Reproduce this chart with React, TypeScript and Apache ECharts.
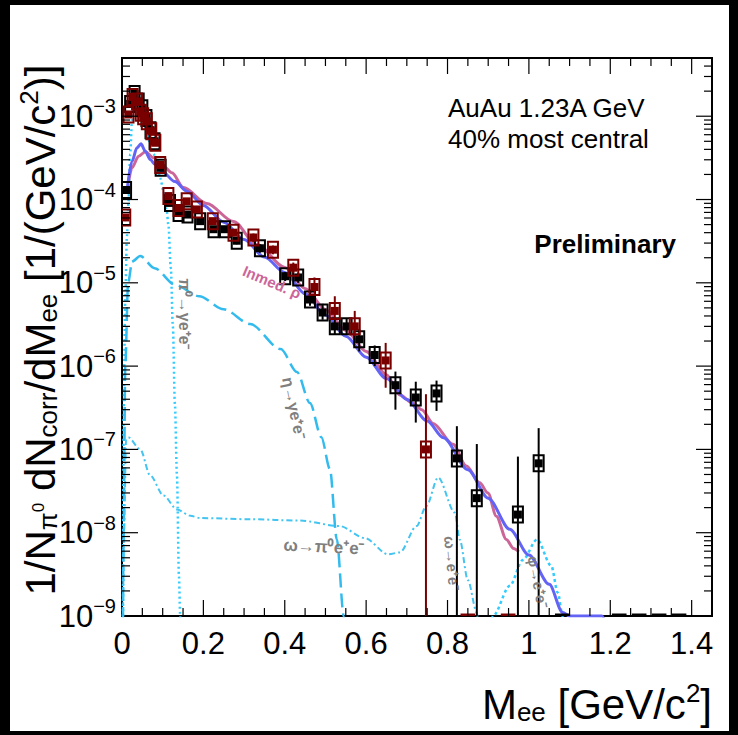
import React, { useEffect, useRef } from 'react';
import * as echarts from 'echarts';

const FONT = '"Liberation Sans", Arial, Helvetica, sans-serif';
const X_MIN = 0;
const X_MAX = 1.45;
const Y_MIN = 1e-9;
const Y_MAX = 5e-3;

// ---- data points (black and dark red samples) ----
const blackX = [0.010, 0.020, 0.031, 0.041, 0.050, 0.060, 0.070, 0.080, 0.095, 0.118, 0.139, 0.161, 0.192, 0.225, 0.253, 0.282, 0.339, 0.401, 0.433, 0.462, 0.493, 0.523, 0.552, 0.583, 0.621, 0.672, 0.722, 0.773, 0.823, 0.872, 0.973, 1.024];
const blackY = [1.3e-4, 1.4e-3, 1.85e-3, 1.5e-3, 1.25e-3, 9.5e-4, 6.8e-4, 5.0e-4, 2.4e-4, 9.1e-5, 6.9e-5, 6.6e-5, 5.5e-5, 4.4e-5, 4.4e-5, 3.2e-5, 2.6e-5, 1.2e-5, 1.16e-5, 6.3e-6, 4.4e-6, 3.0e-6, 3.0e-6, 2.1e-6, 1.36e-6, 5.9e-7, 4.2e-7, 4.7e-7, 7.8e-8, 2.6e-8, 1.65e-8, 6.8e-8];
const blackLo = [1.2e-4, 1.3e-3, 1.75e-3, 1.4e-3, 1.17e-3, 8.9e-4, 6.3e-4, 4.6e-4, 2.2e-4, 8.4e-5, 6.3e-5, 6.0e-5, 5.0e-5, 4.0e-5, 4.0e-5, 2.9e-5, 2.3e-5, 1.05e-5, 1.0e-5, 5.3e-6, 3.6e-6, 2.4e-6, 2.4e-6, 1.5e-6, 1.0e-6, 3.0e-7, 2.1e-7, 2.9e-7, 0, 0, 0, 0];
const blackHi = [1.4e-4, 1.5e-3, 1.95e-3, 1.6e-3, 1.33e-3, 1.01e-3, 7.3e-4, 5.4e-4, 2.6e-4, 9.8e-5, 7.5e-5, 7.2e-5, 6.0e-5, 4.8e-5, 4.8e-5, 3.5e-5, 2.9e-5, 1.35e-5, 1.32e-5, 8.3e-6, 5.6e-6, 3.7e-6, 3.7e-6, 2.8e-6, 1.77e-6, 8.6e-7, 6.5e-7, 6.7e-7, 1.9e-7, 1.16e-7, 8.2e-8, 1.8e-7];
const blackZeroX = [1.082, 1.222, 1.271, 1.32, 1.369];

const redX = [0.008, 0.016, 0.026, 0.037, 0.046, 0.052, 0.061, 0.072, 0.082, 0.094, 0.114, 0.139, 0.159, 0.184, 0.223, 0.274, 0.323, 0.371, 0.421, 0.473, 0.523, 0.572, 0.648, 0.747];
const redY = [6.1e-5, 1.05e-3, 1.7e-3, 1.5e-3, 1.1e-3, 1.0e-3, 8.7e-4, 6.6e-4, 4.8e-4, 2.6e-4, 1.1e-4, 7.9e-5, 9.5e-5, 7.6e-5, 5.5e-5, 4.0e-5, 3.5e-5, 2.5e-5, 1.52e-5, 8.9e-6, 4.6e-6, 3.0e-6, 1.17e-6, 1.0e-7];
const redLo = [5.5e-5, 9.7e-4, 1.6e-3, 1.4e-3, 1.02e-3, 9.3e-4, 8.1e-4, 6.1e-4, 4.4e-4, 2.4e-4, 1.0e-4, 7.2e-5, 8.7e-5, 6.9e-5, 5.0e-5, 3.6e-5, 3.1e-5, 2.2e-5, 1.3e-5, 7.0e-6, 3.6e-6, 2.3e-6, 5.5e-7, 0];
const redHi = [6.7e-5, 1.13e-3, 1.8e-3, 1.6e-3, 1.18e-3, 1.07e-3, 9.3e-4, 7.1e-4, 5.2e-4, 2.8e-4, 1.2e-4, 8.6e-5, 1.03e-4, 8.3e-5, 6.0e-5, 4.4e-5, 3.9e-5, 2.8e-5, 1.75e-5, 1.16e-5, 6.9e-6, 4.6e-6, 1.9e-6, 4.6e-7];
const redZeroX = [0.85, 0.949];

// ---- model curves ----
const sumBlue: [number, number][] = [
  [0.0123, 1.26e-4], [0.0245, 2.88e-4], [0.0368, 4.18e-4], [0.0466, 4.67e-4], [0.0572, 3.8e-4], [0.0694, 3.02e-4],
  [0.0817, 2.63e-4], [0.0981, 2.19e-4], [0.13, 1.64e-4], [0.16, 1.25e-4], [0.2, 8.5e-5], [0.25, 5.35e-5],
  [0.3, 3.3e-5], [0.35, 2.04e-5], [0.4, 1.33e-5], [0.45, 7.4e-6], [0.5, 4.1e-6], [0.55, 2.29e-6],
  [0.6, 1.28e-6], [0.65, 7.1e-7], [0.7, 3.97e-7], [0.75, 2.2e-7], [0.79, 1.38e-7], [0.85, 5.7e-8],
  [0.9, 2.6e-8], [0.953, 1.1e-8], [1.0, 5.4e-9], [1.05, 2.4e-9], [1.083, 1.1e-9], [1.1, 1e-9], [1.18, 1e-9], [1.2, 5e-10],
];
const inmedRho: [number, number][] = [
  [0.0163, 1.66e-4], [0.0245, 2.4e-4], [0.0407, 3.31e-4], [0.0572, 3.74e-4], [0.0775, 3.17e-4], [0.102, 2.51e-4],
  [0.1227, 2.09e-4], [0.151, 1.39e-4], [0.2085, 8.95e-5], [0.2738, 5.44e-5], [0.3312, 2.88e-5], [0.4006, 1.53e-5],
  [0.4497, 8.55e-6], [0.5, 4.79e-6], [0.55, 2.68e-6], [0.6, 1.5e-6], [0.65, 7.9e-7], [0.683, 4.5e-7],
  [0.7147, 3.6e-7], [0.7368, 3.0e-7], [0.7645, 2.05e-7], [0.8135, 1.15e-7], [0.8464, 6.3e-8], [0.879, 3.97e-8],
  [0.8994, 3.0e-8], [0.92, 1.58e-8], [0.9446, 8.3e-9], [0.9625, 6.45e-9], [0.975, 5.9e-9],
];
const pi0Dalitz: [number, number][] = [
  [0.0025, 1e-9], [0.004, 2.6e-7], [0.008, 6e-6], [0.012, 3.6e-5], [0.016, 9.5e-5], [0.02, 3.5e-4],
  [0.025, 9.6e-4], [0.028, 1.66e-3], [0.037, 1.8e-3], [0.045, 1.45e-3], [0.053, 9.6e-4], [0.061, 6.6e-4],
  [0.069, 4.6e-4], [0.078, 3.5e-4], [0.086, 2.6e-4], [0.094, 1.8e-4], [0.102, 1.26e-4], [0.11, 7.2e-5],
  [0.114, 5.0e-5], [0.12, 1.5e-5], [0.125, 3e-6], [0.13, 3.5e-7], [0.135, 5e-8], [0.14, 3e-9], [0.143, 1e-9], [0.145, 1e-10],
];
const etaDalitz: [number, number][] = [
  [0.002, 5e-10], [0.004, 1e-8], [0.008, 1e-6], [0.015, 1e-5], [0.025, 1.8e-5], [0.045, 2.1e-5],
  [0.08, 1.5e-5], [0.13, 9.5e-6], [0.19, 6.9e-6], [0.25, 4.8e-6], [0.315, 3.2e-6], [0.39, 1.6e-6],
  [0.43, 8.5e-7], [0.462, 3.6e-7], [0.49, 1.4e-7], [0.511, 5.8e-8], [0.528, 8.3e-9], [0.545, 1e-9], [0.55, 3e-10],
];
const omega: [number, number][] = [
  [0.002, 5e-10], [0.005, 1e-8], [0.01, 1.3e-7], [0.015, 1.4e-7], [0.045, 1.0e-7], [0.069, 4.9e-8],
  [0.102, 2.8e-8], [0.135, 1.9e-8], [0.168, 1.6e-8], [0.192, 1.5e-8], [0.315, 1.45e-8], [0.437, 1.4e-8],
  [0.535, 1.2e-8], [0.597, 8.6e-9], [0.654, 5.5e-9], [0.683, 5.8e-9], [0.724, 1.2e-8], [0.748, 2.1e-8],
  [0.777, 4.6e-8], [0.818, 1.74e-8], [0.83, 8.3e-9], [0.85, 2.7e-9], [0.872, 1.1e-9], [0.88, 3e-10],
];
const phi: [number, number][] = [
  [0.9, 4e-10], [0.912, 1e-9], [0.953, 2.3e-9], [0.985, 4.7e-9], [1.02, 8.3e-9], [1.055, 4e-9],
  [1.071, 1.9e-9], [1.083, 1e-9], [1.095, 3e-10],
];

// tick values for the frame (drawn on all four sides)
const xTickVals: number[] = [];
for (let k = 1; k <= 28; k++) xTickVals.push(+(k * 0.05).toFixed(2));
const yTickVals: number[] = [];
for (let e = -9; e <= -3; e++) for (let m = 1; m <= 9; m++) {
  const v = m * Math.pow(10, e);
  if (v > Y_MIN * 1.0001 && v < Y_MAX * 0.9999) yTickVals.push(v);
}

function makeOption() {
  const pointSeries = (name: string, color: string, xs: number[], ys: number[], lo: number[], hi: number[]) => ({
    type: 'custom',
    name,
    z: 5,
    clip: true,
    data: xs.map((x, i) => [x, ys[i], lo[i], hi[i]]),
    renderItem: (params: any, api: any) => {
      const x = api.value(0), y = api.value(1), l = api.value(2), h = api.value(3);
      const c = api.coord([x, y]);
      const top = api.coord([x, h]);
      const bot = api.coord([x, l > Y_MIN ? l : Y_MIN]);
      return {
        type: 'group',
        children: [
          { type: 'line', shape: { x1: c[0], y1: top[1], x2: c[0], y2: bot[1] }, style: { stroke: color, lineWidth: 2 } },
          { type: 'rect', shape: { x: c[0] - 5, y: c[1] - 8, width: 10, height: 16 }, style: { fill: 'none', stroke: color, lineWidth: 2 } },
          { type: 'rect', shape: { x: c[0] - 4, y: c[1] - 4, width: 8, height: 8 }, style: { fill: color } },
        ],
      };
    },
  });
  const zeroSeries = (name: string, color: string, xs: number[]) => ({
    type: 'custom',
    name,
    z: 5,
    clip: true,
    data: xs.map((x) => [x, Y_MIN]),
    renderItem: (params: any, api: any) => {
      const x = api.value(0);
      const a = api.coord([x - 0.018, Y_MIN]);
      const b = api.coord([x + 0.018, Y_MIN]);
      return { type: 'line', shape: { x1: a[0], y1: a[1] - 1, x2: b[0], y2: b[1] - 1 }, style: { stroke: color, lineWidth: 3 } };
    },
  });
  const curve = (name: string, data: [number, number][], color: string, width: number, type: any, smooth = 0.3) => ({
    type: 'line',
    name,
    data,
    showSymbol: false,
    symbol: 'none',
    smooth,
    smoothMonotone: 'x',
    clip: true,
    z: 3,
    lineStyle: { color, width, type },
  });

  const supStyle = {
    b: { fontSize: 31, fontFamily: FONT, color: '#000' },
    s: { fontSize: 20, fontFamily: FONT, color: '#000', padding: [0, 0, 20, 0] },
  };

  const lbl = (text: string, x: number, y: number, rotation: number, size: number, fill = '#7f7f7f') => ({
    type: 'text', x, y, rotation, z: 20,
    style: { text, font: `bold ${size}px ${FONT}`, fill, align: 'center', verticalAlign: 'middle' },
  });

  return {
    animation: false,
    grid: { left: 122, top: 58, width: 590, height: 558, show: true, borderColor: '#000', borderWidth: 2, backgroundColor: 'transparent' },
    xAxis: {
      type: 'value', min: X_MIN, max: X_MAX, interval: 0.2,
      axisLine: { show: false }, axisTick: { show: false }, splitLine: { show: false },
      axisLabel: { fontSize: 31, fontFamily: FONT, color: '#000', margin: 12, showMaxLabel: false,
        formatter: (v: number) => (Math.abs(v / 0.2 - Math.round(v / 0.2)) < 1e-6 ? String(+v.toFixed(1)) : '') },
    },
    yAxis: {
      type: 'log', min: Y_MIN, max: Y_MAX, logBase: 10,
      axisLine: { show: false }, axisTick: { show: false }, splitLine: { show: false },
      axisLabel: {
        margin: 6, showMaxLabel: false, rich: supStyle,
        formatter: (v: number) => {
          const l = Math.log10(v);
          const e = Math.round(l);
          if (Math.abs(l - e) > 0.01) return '';
          return `{b|10}{s|\u2212${-e}}`;
        },
      },
    },
    series: [
      curve('pi0', pi0Dalitz, '#33ccff', 2.5, [2, 3]),
      curve('eta', etaDalitz, '#33bbee', 2.5, [14, 6]),
      curve('omega', omega, '#44c4f0', 2, [6, 3, 2, 3]),
      curve('phi', phi, '#33ccff', 2.5, [3, 3]),
      curve('inmed', inmedRho, '#cc6699', 3, 'solid'),
      curve('sum', sumBlue, '#6363f5', 3, 'solid'),
      pointSeries('black', '#000000', blackX, blackY, blackLo, blackHi),
      pointSeries('red', '#7a0000', redX, redY, redLo, redHi),
      zeroSeries('blackZero', '#000000', blackZeroX),
      zeroSeries('redZero', '#7a0000', redZeroX),
      {
        type: 'custom', name: 'frameTicks', z: 6,
        data: [[0.7, 1e-6]],
        renderItem: (params: any, api: any) => {
          const children: any[] = [];
          xTickVals.forEach((v) => {
            const major = Math.abs(v / 0.2 - Math.round(v / 0.2)) < 1e-6;
            const len = major ? 16 : 8;
            const b = api.coord([v, Y_MIN]);
            const t = api.coord([v, Y_MAX]);
            children.push({ type: 'line', shape: { x1: b[0], y1: b[1], x2: b[0], y2: b[1] - len }, style: { stroke: '#000', lineWidth: 1.2 } });
            children.push({ type: 'line', shape: { x1: t[0], y1: t[1], x2: t[0], y2: t[1] + len }, style: { stroke: '#000', lineWidth: 1.2 } });
          });
          yTickVals.forEach((v) => {
            const l = Math.log10(v);
            const major = Math.abs(l - Math.round(l)) < 1e-6;
            const len = major ? 16 : 8;
            const a = api.coord([X_MIN, v]);
            const r = api.coord([X_MAX, v]);
            children.push({ type: 'line', shape: { x1: a[0], y1: a[1], x2: a[0] + len, y2: a[1] }, style: { stroke: '#000', lineWidth: 1.2 } });
            children.push({ type: 'line', shape: { x1: r[0], y1: r[1], x2: r[0] - len, y2: r[1] }, style: { stroke: '#000', lineWidth: 1.2 } });
          });
          return { type: 'group', children };
        },
      },
    ],
    graphic: [
      {
        type: 'text', x: 40, y: 330, rotation: Math.PI / 2, z: 20,
        style: {
          text: '{m|1/N}{s|\u03c0}{z|0}{m| dN}{s|corr}{m|/dM}{s|ee}{m| [1/(GeV/c}{p|2}{m|)]}',
          align: 'center', verticalAlign: 'middle',
          rich: {
            m: { fontSize: 42, fontFamily: FONT, fill: '#000' },
            s: { fontSize: 26, fontFamily: FONT, fill: '#000', padding: [16, 0, 0, 0] },
            z: { fontSize: 17, fontFamily: FONT, fill: '#000', padding: [0, 0, 4, 0] },
            p: { fontSize: 26, fontFamily: FONT, fill: '#000', padding: [0, 0, 22, 0] },
          },
        },
      },
      {
        type: 'text', x: 712, y: 704, z: 20,
        style: {
          text: '{m|M}{s|ee}{m| [GeV/c}{p|2}{m|]}',
          align: 'right', verticalAlign: 'middle',
          rich: {
            m: { fontSize: 42, fontFamily: FONT, fill: '#000' },
            s: { fontSize: 26, fontFamily: FONT, fill: '#000', padding: [16, 0, 0, 0] },
            p: { fontSize: 26, fontFamily: FONT, fill: '#000', padding: [0, 0, 22, 0] },
          },
        },
      },
      { type: 'text', x: 448, y: 108, z: 20, style: { text: 'AuAu 1.23A GeV', font: `26px ${FONT}`, fill: '#000', verticalAlign: 'middle' } },
      { type: 'text', x: 448, y: 139, z: 20, style: { text: '40% most central', font: `26px ${FONT}`, fill: '#000', verticalAlign: 'middle' } },
      { type: 'text', x: 676, y: 244, z: 20, style: { text: 'Preliminary', font: `bold 26px ${FONT}`, fill: '#000', align: 'right', verticalAlign: 'middle' } },
      lbl('Inmed. \u03c1', 272, 282, -0.4, 15, '#cc6699'),
      lbl('\u03c0\u2070\u2192\u03b3e\u207ae\u207b', 184, 314, -Math.PI / 2, 16),
      lbl('\u03b7\u2192\u03b3e\u207ae\u207b', 294, 408, -1.36, 16),
      lbl('\u03c9\u2192\u03c0\u2070e\u207ae\u207b', 324, 547, -0.05, 17),
      lbl('\u03c9\u2192e\u207ae\u207b', 452, 563, -1.48, 15),
      lbl('\u03c6\u2192e\u207ae\u207b', 538, 582, -1.38, 15),
    ],
  };
}

export default function App() {
  const ref = useRef<HTMLDivElement>(null);
  useEffect(() => {
    const chart = echarts.init(ref.current as HTMLDivElement, null, { renderer: 'svg' });
    chart.setOption(makeOption() as any);
    return () => chart.dispose();
  }, []);
  return (
    <div style={{ position: 'fixed', left: 0, top: 0, width: 738, height: 735, background: '#000', overflow: 'hidden' }}>
      <div style={{ position: 'absolute', left: 10, top: 5, width: 719, height: 726, background: '#fff' }} />
      <div ref={ref} style={{ position: 'absolute', left: 0, top: 0, width: 738, height: 735 }} />
    </div>
  );
}
